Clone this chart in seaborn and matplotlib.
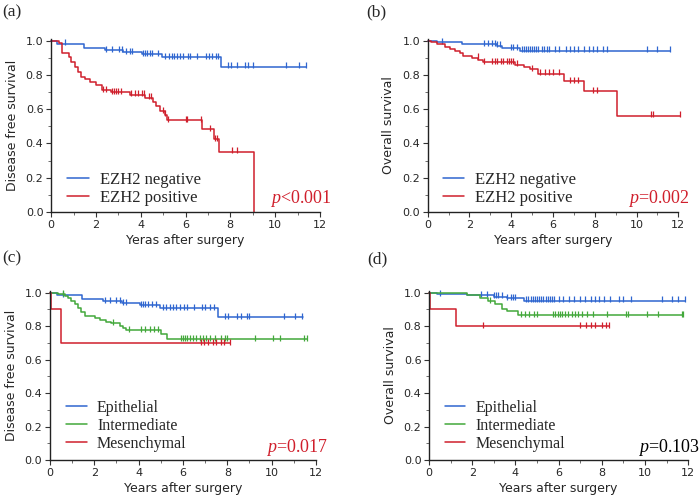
import numpy as np
import pandas as pd
import matplotlib
matplotlib.use("Agg")
import matplotlib.pyplot as plt
from matplotlib.ticker import MultipleLocator
import seaborn as sns

sns.set_theme(style="ticks")
plt.rcParams["font.family"] = ["DejaVu Sans"]
plt.rcParams["mathtext.fontset"] = "custom"
plt.rcParams["mathtext.it"] = "Liberation Serif:italic"
plt.rcParams["mathtext.rm"] = "Liberation Serif"

BLUE = "#2f66d0"
RED = "#d01f2c"
GREEN = "#43a83b"

# (a) disease free survival by EZH2
a_neg_t = [0, 0.25, 1.45, 2.4, 3.2, 4.05, 4.95, 7.57, 11.4]
a_neg_s = [1.0, 0.983, 0.96, 0.945, 0.934, 0.922, 0.904, 0.848, 0.848]
a_neg_cens = [0.6, 2.45, 2.7, 3.05, 3.15, 3.35, 3.5, 3.6, 4.1, 4.2, 4.3, 4.4, 4.5, 4.75,
              5.1, 5.25, 5.4, 5.5, 5.6, 5.75, 5.9, 6.1, 6.2, 6.5, 6.9, 7.05, 7.2,
              7.35, 7.45, 7.9, 8.05, 8.3, 8.65, 8.8, 9.0, 10.5, 11.05, 11.4]
a_pos_t = [0, 0.36, 0.49, 0.79, 0.91, 1.06, 1.2, 1.35, 1.5, 1.72, 2.02, 2.25, 2.69,
           3.51, 4.18, 4.55, 4.7, 4.85, 5.07, 5.19, 6.73, 7.28, 7.5, 9.07]
a_pos_s = [1.0, 0.984, 0.926, 0.906, 0.877, 0.848, 0.819, 0.79, 0.775, 0.761, 0.742,
           0.713, 0.70, 0.684, 0.668, 0.645, 0.616, 0.587, 0.568, 0.535, 0.482,
           0.424, 0.352, 0.0]
a_pos_cens = [2.32, 2.45, 2.7, 2.8, 2.9, 3.0, 3.1, 3.58, 3.75, 3.9, 4.05, 4.15, 4.35,
              4.45, 5.0, 5.07, 5.2, 6.0, 6.05, 6.7, 7.1, 7.3, 7.4, 8.06, 8.28]

# (b) overall survival by EZH2
b_neg_t = [0, 0.43, 1.63, 3.3, 3.54, 4.42, 11.6]
b_neg_s = [1.0, 0.992, 0.98, 0.971, 0.958, 0.942, 0.942]
b_neg_cens = [0.7, 2.7, 2.9, 3.1, 3.2, 3.3, 3.45, 4.0, 4.1, 4.3, 4.5, 4.6, 4.7, 4.8,
              4.9, 5.0, 5.1, 5.2, 5.3, 5.45, 5.55, 5.7, 5.8, 6.1, 6.3, 6.6, 6.8,
              7.0, 7.2, 7.5, 7.7, 7.9, 8.1, 8.4, 8.6, 10.5, 11.0, 11.6]
b_pos_t = [0, 0.18, 0.43, 0.83, 1.07, 1.31, 1.55, 1.71, 2.11, 2.42, 2.66, 4.18, 4.6,
           4.9, 5.3, 6.55, 7.47, 9.05, 12.08]
b_pos_s = [1.0, 0.99, 0.978, 0.964, 0.951, 0.939, 0.926, 0.912, 0.9, 0.887, 0.874,
           0.861, 0.848, 0.832, 0.808, 0.763, 0.705, 0.563, 0.563]
b_pos_cens = [2.4, 2.7, 3.1, 3.2, 3.3, 3.5, 3.6, 3.8, 3.9, 4.0, 4.1, 4.3, 5.0, 5.4,
              5.6, 5.8, 6.0, 6.3, 6.8, 7.0, 7.2, 7.9, 8.1, 10.7, 10.8, 12.08]

# (c) disease free survival by EMT phenotype
c_epi_t = [0, 0.3, 1.43, 2.4, 3.24, 4.07, 4.97, 7.57, 11.4]
c_epi_s = [1.0, 0.985, 0.963, 0.948, 0.938, 0.926, 0.908, 0.853, 0.853]
c_epi_cens = [0.6, 2.47, 2.7, 3.0, 3.15, 3.3, 3.45, 4.1, 4.2, 4.3, 4.4, 4.6, 4.8,
              5.1, 5.25, 5.4, 5.55, 5.7, 5.85, 6.05, 6.2, 6.5, 6.85, 7.0, 7.2,
              7.4, 7.9, 8.05, 8.45, 8.6, 8.9, 9.0, 10.54, 11.07, 11.37]
c_int_t = [0, 0.36, 0.66, 0.81, 0.96, 1.11, 1.26, 1.41, 1.56, 2.02, 2.24, 2.54,
           2.77, 3.15, 3.3, 3.45, 5.03, 5.3, 11.6]
c_int_s = [1.0, 0.99, 0.98, 0.97, 0.95, 0.93, 0.91, 0.885, 0.862, 0.848, 0.836,
           0.826, 0.816, 0.803, 0.79, 0.775, 0.752, 0.722, 0.722]
c_int_cens = [0.6, 2.85, 3.58, 4.12, 4.3, 4.5, 4.7, 4.88, 5.9, 6.0, 6.1, 6.2, 6.3,
              6.45, 6.6, 6.75, 6.9, 7.05, 7.2, 7.45, 7.7, 7.9, 8.0, 9.26, 10.04,
              10.39, 11.44, 11.6]
c_mes_t = [0, 0.05, 0.5, 8.1]
c_mes_s = [1.0, 0.9, 0.7, 0.7]
c_mes_cens = [6.8, 6.95, 7.15, 7.35, 7.5, 7.7, 7.85, 8.1]

# (d) overall survival by EMT phenotype
d_epi_t = [0, 0.35, 1.75, 3.0, 3.6, 4.4, 11.85]
d_epi_s = [1.0, 0.993, 0.986, 0.976, 0.966, 0.953, 0.953]
d_epi_cens = [0.5, 2.4, 2.7, 3.0, 3.1, 3.2, 3.4, 3.6, 3.8, 3.9, 4.0, 4.5, 4.6, 4.7,
              4.8, 4.9, 5.0, 5.1, 5.2, 5.3, 5.4, 5.5, 5.6, 5.7, 5.8, 6.0, 6.2,
              6.5, 6.7, 7.0, 7.2, 7.5, 7.7, 7.85, 8.1, 8.4, 8.8, 9.0, 9.35,
              10.78, 11.25, 11.55, 11.85]
d_int_t = [0, 1.75, 2.36, 2.75, 3.06, 3.37, 3.6, 4.14, 11.75]
d_int_s = [1.0, 0.986, 0.97, 0.951, 0.931, 0.904, 0.888, 0.864, 0.864]
d_int_cens = [2.8, 4.25, 4.45, 4.65, 4.85, 5.0, 5.75, 5.85, 5.95, 6.05, 6.15, 6.3,
              6.45, 6.6, 6.75, 6.9, 7.1, 7.3, 7.6, 8.23, 9.1, 9.2, 10.1, 10.6,
              11.7, 11.75]
d_mes_t = [0, 0.05, 1.25, 8.35]
d_mes_s = [1.0, 0.9, 0.8, 0.8]
d_mes_cens = [2.5, 7.0, 7.25, 7.5, 7.7, 8.0, 8.2, 8.35]


def km(ax, t, s, cens, color, label):
    df = pd.DataFrame({"t": t, "s": s})
    sns.lineplot(data=df, x="t", y="s", drawstyle="steps-post", color=color,
                 lw=1.1, estimator=None, sort=False, label=label, ax=ax, clip_on=False)
    # censor ticks sit on the curve
    idx = np.searchsorted(np.array(t), np.array(cens), side="right") - 1
    cy = np.array(s)[idx] + 0.008
    ax.plot(cens, cy, ls="none", marker="|", ms=4.5, mew=0.9, color=color,
            clip_on=False)


fig = plt.figure(figsize=(7, 5), dpi=100)
ax_a = fig.add_axes([0.073, 0.576, 0.384, 0.346])
ax_b = fig.add_axes([0.611, 0.576, 0.358, 0.346])
ax_c = fig.add_axes([0.0714, 0.08, 0.38, 0.338])
ax_d = fig.add_axes([0.613, 0.08, 0.37, 0.338])

km(ax_a, a_neg_t, a_neg_s, a_neg_cens, BLUE, "EZH2 negative")
km(ax_a, a_pos_t, a_pos_s, a_pos_cens, RED, "EZH2 positive")
km(ax_b, b_neg_t, b_neg_s, b_neg_cens, BLUE, "EZH2 negative")
km(ax_b, b_pos_t, b_pos_s, b_pos_cens, RED, "EZH2 positive")
km(ax_c, c_epi_t, c_epi_s, c_epi_cens, BLUE, "Epithelial")
km(ax_c, c_int_t, c_int_s, c_int_cens, GREEN, "Intermediate")
km(ax_c, c_mes_t, c_mes_s, c_mes_cens, RED, "Mesenchymal")
km(ax_d, d_epi_t, d_epi_s, d_epi_cens, BLUE, "Epithelial")
km(ax_d, d_int_t, d_int_s, d_int_cens, GREEN, "Intermediate")
km(ax_d, d_mes_t, d_mes_s, d_mes_cens, RED, "Mesenchymal")

ylabels = ["Disease free survival", "Overall survival",
           "Disease free survival", "Overall survival"]
xlabels = ["Yeras after surgery", "Years after surgery",
           "Years after surgery", "Years after surgery"]
pvals = [("<0.001", RED), ("=0.002", RED), ("=0.017", RED), ("=0.103", "black")]
tags = ["(a)", "(b)", "(c)", "(d)"]
tag_pos = [(0.003, 0.968), (0.523, 0.968), (0.003, 0.476), (0.525, 0.474)]

for ax, yl, xl, (pv, pc), tag, tp in zip([ax_a, ax_b, ax_c, ax_d], ylabels, xlabels,
                                         pvals, tags, tag_pos):
    ax.set_xlim(0, 12)
    ax.set_ylim(0, 1.01)
    ax.xaxis.set_minor_locator(MultipleLocator(1))
    ax.yaxis.set_minor_locator(MultipleLocator(0.1))
    ax.set_xticks([0, 2, 4, 6, 8, 10, 12])
    ax.set_yticks([0, 0.2, 0.4, 0.6, 0.8, 1.0])
    ax.set_yticklabels(["0.0", "0.2", "0.4", "0.6", "0.8", "1.0"])
    ax.tick_params(which="major", length=3.5, width=0.8, labelsize=8, pad=2,
                   color="#333333")
    ax.tick_params(which="minor", length=2, width=0.6, color="#555555")
    sns.despine(ax=ax)
    for sp in ["left", "bottom"]:
        ax.spines[sp].set_linewidth(1.0)
        ax.spines[sp].set_color("#222222")
    ax.set_xlabel(xl, fontsize=9, labelpad=3)
    ax.set_ylabel(yl, fontsize=9, labelpad=5)
    nrows = len(ax.get_legend_handles_labels()[1])
    ax.legend(loc="lower left", bbox_to_anchor=(0.06, 0.035 if nrows == 2 else 0.05),
              frameon=False,
              prop={"family": "Liberation Serif", "size": 12 if nrows == 2 else 11.5},
              handlelength=1.3, handletextpad=0.65, labelspacing=0.12,
              borderaxespad=0, borderpad=0)
    ax.text(1.045, 0.05, r"$p$" + pv, transform=ax.transAxes, ha="right",
            va="baseline", color=pc, fontsize=13, family="Liberation Serif")
    fig.text(tp[0], tp[1], tag, fontsize=12.5, family="Liberation Serif",
             va="baseline")

fig.savefig("out.png", dpi=100)
